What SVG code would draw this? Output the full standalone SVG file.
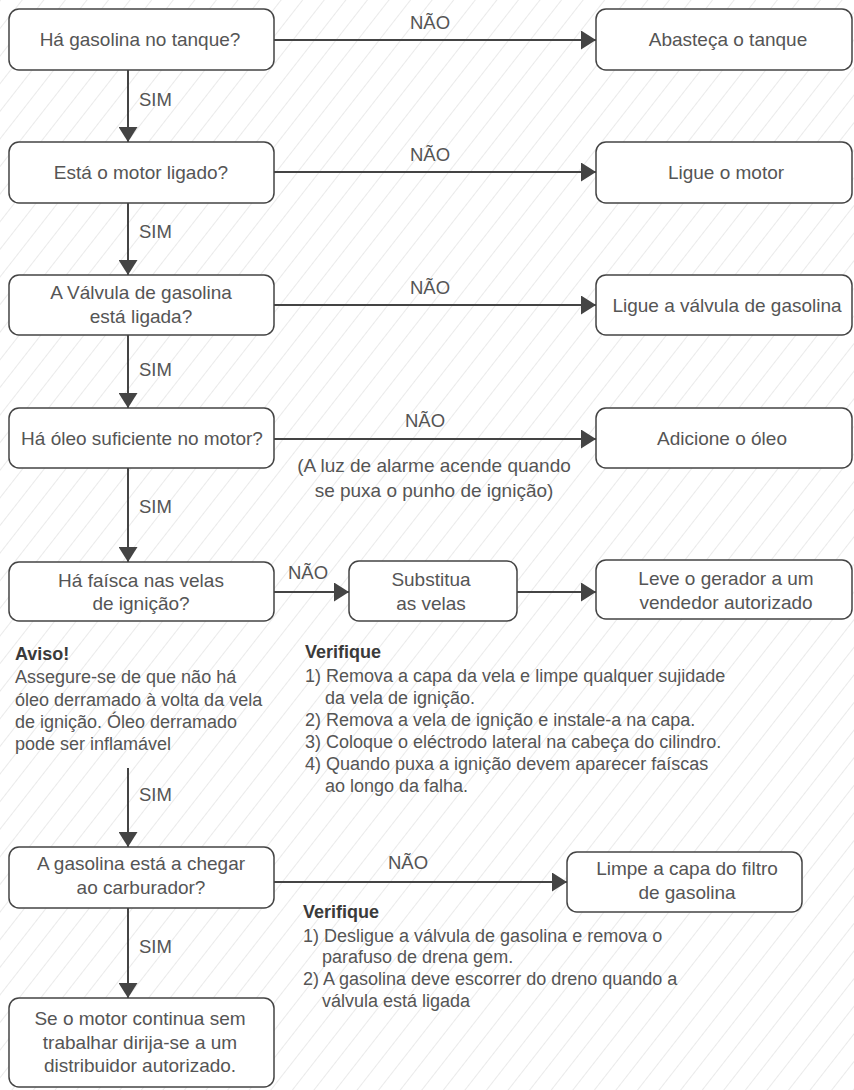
<svg xmlns="http://www.w3.org/2000/svg" width="854" height="1090" viewBox="0 0 854 1090">
<style>
.box{fill:#fff;stroke:#444;stroke-width:1.5}
.t{font-family:"Liberation Sans",Arial,sans-serif;font-size:19px;fill:#555;text-anchor:middle}
.lbl{font-family:"Liberation Sans",Arial,sans-serif;font-size:18.5px;fill:#555}
.note{font-family:"Liberation Sans",Arial,sans-serif;font-size:18px;fill:#555}
.h{font-family:"Liberation Sans",Arial,sans-serif;font-size:18px;font-weight:bold;fill:#3a3a3a}
.c{stroke:#444;stroke-width:2;fill:none}
</style>
<defs>
<pattern id="hatch" width="17" height="20" patternUnits="userSpaceOnUse" patternTransform="rotate(38)">
<line x1="0" y1="-5" x2="0" y2="25" stroke="#dcdcdc" stroke-width="1.2"/>
</pattern>
<marker id="arr" markerWidth="15" markerHeight="19" refX="15" refY="9.5" orient="auto" markerUnits="userSpaceOnUse">
<path d="M0,0 L15,9.5 L0,19 Z" fill="#444"/>
</marker>
</defs>
<rect width="854" height="1090" fill="#fff"/>
<rect width="854" height="1090" fill="url(#hatch)"/>

<g id="connectors">
<line class="c" x1="274" y1="40" x2="596" y2="40" marker-end="url(#arr)"/>
<line class="c" x1="274" y1="172" x2="596" y2="172" marker-end="url(#arr)"/>
<line class="c" x1="274" y1="305" x2="596" y2="305" marker-end="url(#arr)"/>
<line class="c" x1="274" y1="439" x2="596" y2="439" marker-end="url(#arr)"/>
<line class="c" x1="274" y1="592" x2="349" y2="592" marker-end="url(#arr)"/>
<line class="c" x1="517" y1="592" x2="596" y2="592" marker-end="url(#arr)"/>
<line class="c" x1="274" y1="882" x2="567" y2="882" marker-end="url(#arr)"/>
<line class="c" x1="128" y1="70" x2="128" y2="142" marker-end="url(#arr)"/>
<line class="c" x1="128" y1="203" x2="128" y2="275" marker-end="url(#arr)"/>
<line class="c" x1="128" y1="335" x2="128" y2="408" marker-end="url(#arr)"/>
<line class="c" x1="128" y1="468" x2="128" y2="562" marker-end="url(#arr)"/>
<line class="c" x1="128" y1="768" x2="128" y2="847" marker-end="url(#arr)"/>
<line class="c" x1="128" y1="908" x2="128" y2="998" marker-end="url(#arr)"/>
<text class="lbl" x="430" y="29" text-anchor="middle">NÃO</text>
<text class="lbl" x="430" y="161" text-anchor="middle">NÃO</text>
<text class="lbl" x="430" y="294" text-anchor="middle">NÃO</text>
<text class="lbl" x="425" y="427" text-anchor="middle">NÃO</text>
<text class="lbl" x="308" y="579" text-anchor="middle">NÃO</text>
<text class="lbl" x="408" y="869" text-anchor="middle">NÃO</text>
<text class="lbl" x="139" y="106">SIM</text>
<text class="lbl" x="139" y="238">SIM</text>
<text class="lbl" x="139" y="376">SIM</text>
<text class="lbl" x="139" y="513">SIM</text>
<text class="lbl" x="139" y="801">SIM</text>
<text class="lbl" x="139" y="953">SIM</text>
<text class="t" x="434" y="472">(A luz de alarme acende quando</text>
<text class="t" x="434" y="497">se puxa o punho de ignição)</text>
</g>

<g id="n1"><rect class="box" x="9" y="9" width="265" height="61" rx="10"/><text class="t" x="140" y="46">Há gasolina no tanque?</text></g>
<g id="n2"><rect class="box" x="9" y="142" width="265" height="61" rx="10"/><text class="t" x="141" y="179">Está o motor ligado?</text></g>
<g id="n3"><rect class="box" x="9" y="275" width="265" height="60" rx="10"/><text class="t" x="141" y="299">A Válvula de gasolina</text><text class="t" x="141" y="323">está ligada?</text></g>
<g id="n4"><rect class="box" x="9" y="408" width="265" height="60" rx="10"/><text class="t" x="142" y="445">Há óleo suficiente no motor?</text></g>
<g id="n5"><rect class="box" x="9" y="562" width="265" height="59" rx="10"/><text class="t" x="141" y="587">Há faísca nas velas</text><text class="t" x="141" y="610">de ignição?</text></g>
<g id="n6"><rect class="box" x="9" y="847" width="265" height="61" rx="10"/><text class="t" x="141" y="870">A gasolina está a chegar</text><text class="t" x="141" y="894">ao carburador?</text></g>
<g id="n7"><rect class="box" x="9" y="998" width="265" height="89" rx="10"/><text class="t" x="140" y="1025">Se o motor continua sem</text><text class="t" x="140" y="1049">trabalhar dirija-se a um</text><text class="t" x="140" y="1072">distribuidor autorizado.</text></g>

<g id="r1"><rect class="box" x="596" y="9" width="256" height="61" rx="10"/><text class="t" x="728" y="46">Abasteça o tanque</text></g>
<g id="r2"><rect class="box" x="596" y="142" width="256" height="61" rx="10"/><text class="t" x="726" y="179">Ligue o motor</text></g>
<g id="r3"><rect class="box" x="596" y="275" width="256" height="60" rx="10"/><text class="t" x="727" y="312">Ligue a válvula de gasolina</text></g>
<g id="r4"><rect class="box" x="596" y="408" width="256" height="60" rx="10"/><text class="t" x="722" y="445">Adicione o óleo</text></g>
<g id="r5"><rect class="box" x="349" y="561" width="168" height="60" rx="10"/><text class="t" x="431" y="586">Substitua</text><text class="t" x="431" y="610">as velas</text></g>
<g id="r6"><rect class="box" x="596" y="560" width="256" height="59" rx="10"/><text class="t" x="726" y="585">Leve o gerador a um</text><text class="t" x="726" y="609">vendedor autorizado</text></g>
<g id="r7"><rect class="box" x="567" y="852" width="235" height="60" rx="10"/><text class="t" x="687" y="875">Limpe a capa do filtro</text><text class="t" x="687" y="899">de gasolina</text></g>

<g id="aviso">
<text class="h" x="15" y="660">Aviso!</text>
<text class="note" x="15" y="683">Assegure-se de que não há</text>
<text class="note" x="15" y="706">óleo derramado à volta da vela</text>
<text class="note" x="15" y="728">de ignição. Óleo derramado</text>
<text class="note" x="15" y="750">pode ser inflamável</text>
</g>
<g id="verifique1">
<text class="h" x="305" y="658">Verifique</text>
<text class="note" x="305" y="682">1) Remova a capa da vela e limpe qualquer sujidade</text>
<text class="note" x="325" y="704">da vela de ignição.</text>
<text class="note" x="305" y="726">2) Remova a vela de ignição e instale-a na capa.</text>
<text class="note" x="305" y="748">3) Coloque o eléctrodo lateral na cabeça do cilindro.</text>
<text class="note" x="305" y="770">4) Quando puxa a ignição devem aparecer faíscas</text>
<text class="note" x="325" y="792">ao longo da falha.</text>
</g>
<g id="verifique2">
<text class="h" x="303" y="918">Verifique</text>
<text class="note" x="303" y="942">1) Desligue a válvula de gasolina e remova o</text>
<text class="note" x="322" y="963">parafuso de drena gem.</text>
<text class="note" x="303" y="985">2) A gasolina deve escorrer do dreno quando a</text>
<text class="note" x="322" y="1007">válvula está ligada</text>
</g>
</svg>
